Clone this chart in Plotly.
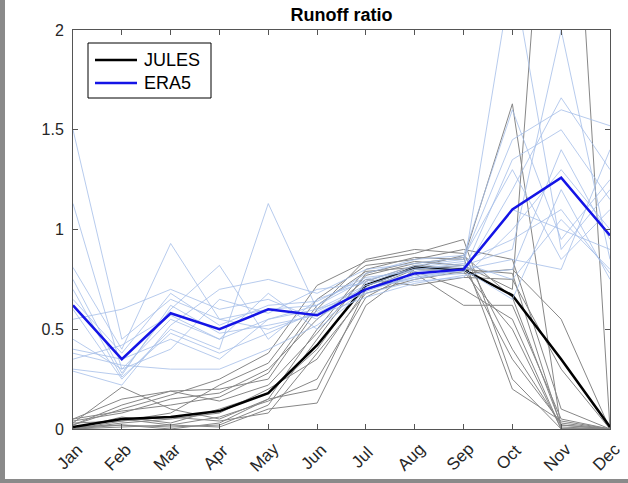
import plotly.graph_objects as go

months = ["Jan", "Feb", "Mar", "Apr", "May", "Jun", "Jul", "Aug", "Sep", "Oct", "Nov", "Dec"]
y_ticks = [0, 0.5, 1, 1.5, 2]
y_tick_labels = ["0", "0.5", "1", "1.5", "2"]
series_names = ["JULES", "ERA5"]
series_colors = ["black", "rgb(20,20,230)"]

jules_members = [
    [0.00, 0.02, 0.01, 0.02, 0.12, 0.45, 0.78, 0.84, 0.82, 0.70, 4.00, 0.00],
    [0.03, 0.21, 0.10, 0.05, 0.15, 0.50, 0.80, 0.86, 0.85, 1.63, 0.00, 0.00],
    [0.05, 0.15, 0.19, 0.20, 0.25, 0.60, 0.85, 0.90, 0.88, 0.40, 0.02, 0.00],
    [0.01, 0.05, 0.02, 0.01, 0.10, 0.13, 0.62, 0.80, 0.78, 0.80, 0.55, 0.00],
    [0.02, 0.10, 0.17, 0.25, 0.38, 0.72, 0.84, 0.88, 0.95, 0.25, 0.00, 0.00],
    [0.00, 0.03, 0.05, 0.08, 0.20, 0.35, 0.70, 0.78, 0.62, 0.62, 0.05, 0.00],
    [0.04, 0.08, 0.15, 0.18, 0.30, 0.55, 0.75, 0.72, 0.76, 0.75, 0.30, 0.00],
    [0.01, 0.02, 0.00, 0.03, 0.15, 0.20, 0.70, 0.80, 0.82, 0.35, 0.03, 0.00],
    [0.00, 0.06, 0.03, 0.10, 0.18, 0.40, 0.74, 0.82, 0.80, 0.78, 0.01, 0.00],
    [0.02, 0.12, 0.19, 0.14, 0.22, 0.48, 0.77, 0.83, 0.86, 0.20, 0.04, 0.00],
    [0.00, 0.01, 0.02, 0.06, 0.14, 0.25, 0.66, 0.79, 0.70, 0.55, 0.00, 0.00],
    [0.03, 0.04, 0.08, 0.22, 0.33, 0.65, 0.82, 0.85, 0.90, 0.85, 0.10, 0.00],
    [0.05, 0.09, 0.12, 0.16, 0.28, 0.62, 0.79, 0.81, 0.87, 0.66, 0.02, 0.00],
    [0.00, 0.04, 0.06, 0.04, 0.08, 0.38, 0.68, 0.75, 0.79, 0.50, 0.00, 0.00],
]
jules_mean = [0.01, 0.05, 0.06, 0.09, 0.18, 0.42, 0.72, 0.81, 0.80, 0.67, 0.35, 0.01]

era5_members = [
    [1.50, 0.45, 0.65, 0.55, 0.60, 0.62, 0.75, 0.80, 0.82, 0.90, 2.00, 0.85],
    [1.13, 0.30, 0.55, 0.45, 0.55, 0.60, 0.72, 0.78, 0.80, 2.30, 0.90, 1.20],
    [0.81, 0.40, 0.93, 0.55, 0.50, 0.58, 0.70, 0.76, 0.78, 1.20, 1.66, 1.30],
    [0.75, 0.28, 0.60, 0.82, 0.45, 0.65, 0.74, 0.82, 0.85, 1.45, 1.60, 1.52],
    [0.60, 0.25, 0.50, 0.40, 1.13, 0.60, 0.68, 0.74, 0.76, 1.00, 1.30, 1.00],
    [0.55, 0.60, 0.70, 0.60, 0.65, 0.55, 0.72, 0.80, 0.83, 0.75, 1.05, 0.80],
    [0.40, 0.35, 0.45, 0.35, 0.55, 0.62, 0.78, 0.85, 0.87, 1.60, 0.95, 1.25],
    [0.38, 0.32, 0.30, 0.30, 0.40, 0.52, 0.70, 0.76, 0.80, 0.65, 1.20, 0.75],
    [0.29, 0.22, 0.52, 0.70, 0.75, 0.68, 0.80, 0.83, 0.86, 1.30, 0.85, 1.10],
    [0.30, 0.27, 0.62, 0.48, 0.52, 0.57, 0.66, 0.73, 0.77, 0.80, 1.40, 0.95],
    [0.65, 0.38, 0.68, 0.52, 0.62, 0.64, 0.76, 0.79, 0.81, 1.10, 1.00, 0.90],
    [0.45, 0.30, 0.40, 0.65, 0.58, 0.70, 0.73, 0.81, 0.84, 0.95, 1.10, 0.78],
    [0.35, 0.42, 0.57, 0.45, 0.68, 0.50, 0.69, 0.77, 0.79, 1.35, 1.50, 1.15],
    [0.70, 0.26, 0.48, 0.38, 0.48, 0.59, 0.71, 0.75, 0.80, 0.85, 0.80, 1.40],
]
era5_mean = [0.62, 0.35, 0.58, 0.50, 0.60, 0.57, 0.70, 0.78, 0.80, 1.10, 1.26, 0.97]

fig = go.Figure()
for m in jules_members:
    fig.add_trace(go.Scatter(x=months, y=m, mode="lines", showlegend=False,
                             line=dict(color="rgb(135,135,135)", width=1), hoverinfo="skip"))
fig.add_trace(go.Scatter(x=months, y=jules_mean, mode="lines", name=series_names[0],
                         showlegend=False, line=dict(color=series_colors[0], width=2.5)))
for m in era5_members:
    fig.add_trace(go.Scatter(x=months, y=m, mode="lines", showlegend=False,
                             line=dict(color="rgba(165,190,232,0.8)", width=1), hoverinfo="skip"))
fig.add_trace(go.Scatter(x=months, y=era5_mean, mode="lines", name=series_names[1],
                         showlegend=False, line=dict(color=series_colors[1], width=2.5)))

L, R, T, B = 73, 18, 30, 54
W, H = 628, 483
pw, ph = W - L - R, H - T - B

def px_x(p):
    return (p - L) / pw

def px_y(p):
    return (H - B - p) / ph

# rotated month labels as annotations placed at each category
annotations = [
    dict(x=mo, xref="x", y=0, yref="paper", text=mo, showarrow=False,
         textangle=-45, xanchor="center", yanchor="middle",
         xshift=-4, yshift=-28, font=dict(size=17, color="#262626"))
    for mo in months
]

# legend box (MATLAB style)
shapes = [
    dict(type="rect", xref="paper", yref="paper", x0=px_x(0), x1=px_x(5),
         y0=px_y(0), y1=px_y(H), fillcolor="#8a8a8a", line=dict(width=0), layer="above"),
    dict(type="rect", xref="paper", yref="paper", x0=px_x(0), x1=px_x(W),
         y0=px_y(479), y1=px_y(H), fillcolor="#8a8a8a", line=dict(width=0), layer="above"),
    dict(type="rect", xref="paper", yref="paper", x0=px_x(88), x1=px_x(211),
         y0=px_y(98), y1=px_y(43), fillcolor="white",
         line=dict(color="black", width=1), layer="above"),
]
for i, (name, col) in enumerate(zip(series_names, series_colors)):
    yy = 60 + 23 * i
    shapes.append(dict(type="line", xref="paper", yref="paper", x0=px_x(95), x1=px_x(137),
                       y0=px_y(yy), y1=px_y(yy), line=dict(color=col, width=2.5), layer="above"))
    annotations.append(dict(x=px_x(142), y=px_y(yy), xref="paper", yref="paper", text=name,
                            showarrow=False, xanchor="left", yanchor="middle",
                            font=dict(size=18, color="black")))

fig.update_layout(
    width=W, height=H,
    margin=dict(l=L, r=R, t=T, b=B, autoexpand=False),
    paper_bgcolor="white", plot_bgcolor="white",
    font=dict(family="Liberation Sans, Arial, sans-serif", size=15, color="#262626"),
    title=dict(text="<b>Runoff ratio</b>", x=(L + pw / 2) / W, xanchor="center",
               y=1 - 15 / H, yanchor="middle", font=dict(size=18, color="black")),
    showlegend=False,
    xaxis=dict(type="category", categoryorder="array", categoryarray=months,
               range=[0, 11], showgrid=False, zeroline=False,
               showline=True, linecolor="#555", linewidth=1, mirror="ticks",
               ticks="inside", ticklen=5, tickcolor="#555", showticklabels=False),
    yaxis=dict(range=[0, 2], tickvals=y_ticks, ticktext=y_tick_labels,
               showgrid=False, zeroline=False,
               showline=True, linecolor="#555", linewidth=1, mirror="ticks",
               ticks="inside", ticklen=5, tickcolor="#555", ticklabelstandoff=5,
               tickfont=dict(size=16, color="#262626")),
    annotations=annotations,
    shapes=shapes,
)

fig.write_html("out.html", config={"displayModeBar": False},
               post_script="document.body.style.margin='0px';")
